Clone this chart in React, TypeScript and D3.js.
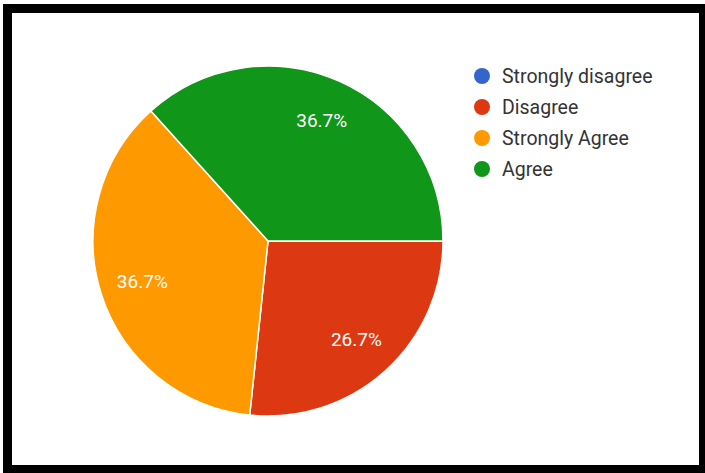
import React from "react";
import * as d3 from "d3";

const categories = ["Strongly disagree", "Disagree", "Strongly Agree", "Agree"];
const values = [0, 8, 11, 11];
const colors = ["#3366cc", "#dc3912", "#ff9900", "#109618"];

export default function App() {
  const W = 705, H = 473;
  const cx = 268, cy = 241, r = 175;
  const pie = d3.pie<number>().sort(null).startAngle(Math.PI / 2).endAngle(Math.PI / 2 + 2 * Math.PI);
  const arcs = pie(values);
  const arc = d3.arc<d3.PieArcDatum<number>>().innerRadius(0).outerRadius(r);
  const labelArc = d3.arc<d3.PieArcDatum<number>>().innerRadius(r * 0.755).outerRadius(r * 0.755);
  const total = d3.sum(values);
  const fmt = d3.format(".1%");
  const legendY = d3.scalePoint<string>().domain(categories).range([76, 169]);
  return (
    <svg width={W} height={H} style={{ position: "absolute", left: 0, top: 0, fontFamily: "Roboto" }}>
      <rect x={0} y={0} width={W} height={H} fill="#fff" />
      <rect x={3} y={4} width={W - 3} height={H - 4} fill="#000" />
      <rect x={12} y={13} width={687} height={452} fill="#fff" />
      <g transform={`translate(${cx},${cy})`}>
        {arcs.map((a, i) =>
          a.value > 0 ? (
            <path key={i} d={arc(a) || ""} fill={colors[i]} stroke="#fff" strokeWidth={1.5} />
          ) : null
        )}
        {arcs.map((a, i) => {
          if (a.value <= 0) return null;
          const [x, y] = labelArc.centroid(a);
          return (
            <text key={"l" + i} x={x} y={y} textAnchor="middle" dominantBaseline="central" fill="#fff" fontSize={19}>
              {fmt(a.value / total)}
            </text>
          );
        })}
      </g>
      <g>
        {categories.map((c, i) => (
          <g key={c} transform={`translate(0,${legendY(c)})`}>
            <circle cx={482} cy={0} r={8} fill={colors[i]} />
            <text x={502} y={0} dominantBaseline="central" fontSize={19.5} fill="#333">
              {c}
            </text>
          </g>
        ))}
      </g>
    </svg>
  );
}
